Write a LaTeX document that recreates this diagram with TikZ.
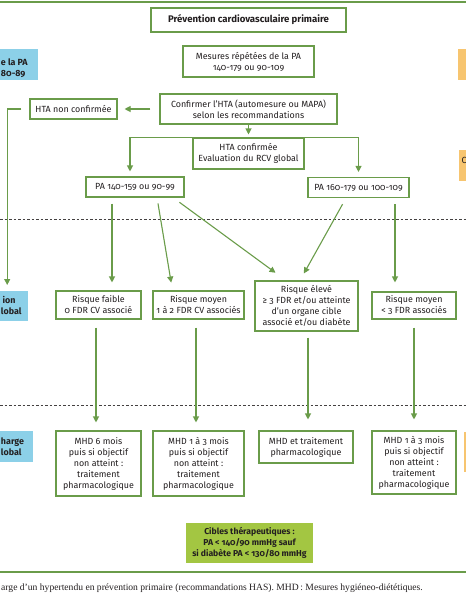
\documentclass[tikz,border=0pt]{standalone}
\usepackage{fontspec}
\setmainfont{Fira Sans}[Numbers=OldStyle]
\newfontfamily\capfont{Liberation Serif}
\usetikzlibrary{arrows.meta}
\definecolor{grn}{RGB}{106,156,74}
\definecolor{bluebx}{RGB}{140,208,232}
\definecolor{orbx}{RGB}{247,197,112}
\definecolor{limebx}{RGB}{163,198,66}
\definecolor{txt}{RGB}{35,31,32}
\begin{document}
\begin{tikzpicture}[x=1pt,y=-1pt,
 box/.style={draw=grn, line width=1.1pt, fill=white, align=center, inner sep=0pt, font=\fontsize{8.9}{11}\selectfont, text=txt},
 arr/.style={draw=grn, line width=1.1pt, -{Triangle[length=6pt,width=6pt]}},
 rule/.style={draw=grn, line width=1.4pt},
 dsh/.style={draw=txt!85, line width=0.7pt, dash pattern=on 2.5pt off 2pt},
 side/.style={font=\bfseries\fontsize{8.9}{11}\selectfont, text=txt, inner sep=0pt, anchor=base west},
 panel/.style={inner sep=0pt, anchor=north west},
]
\useasboundingbox (0,0) rectangle (466,600);
% rules and separators
\coordinate (rtl) at (0,2); \coordinate (rtr) at (466,2);
\draw[rule] (rtl) -- (rtr);
\coordinate (rbl) at (0,572); \coordinate (rbr) at (466,572);
\draw[rule] (rbl) -- (rbr);
\coordinate (d1l) at (0,219); \coordinate (d1r) at (466,219);
\draw[dsh] (d1l) -- (d1r);
\coordinate (d2l) at (0,405); \coordinate (d2r) at (466,405);
\draw[dsh] (d2l) -- (d2r);

% side panels (cut by the page edge)
\node[panel, fill=bluebx, minimum width=48, minimum height=31] (b1) at (-10,49) {};
\node[side] (b1a) at (0.8,65) {e la PA};
\node[side] (b1b) at (0.8,76) {80-89};
\node[panel, fill=bluebx, minimum width=42, minimum height=30] (b2) at (-14,291) {};
\node[side] (b2a) at (2.5,303) {ion};
\node[side] (b2b) at (0.8,314) {lobal};
\node[panel, fill=bluebx, minimum width=48, minimum height=31] (b3) at (-15,431) {};
\node[side] (b3a) at (0.8,444) {harge};
\node[side] (b3b) at (0.8,455) {lobal};
\node[panel, fill=orbx, minimum width=20, minimum height=31] (o1) at (458,49) {};
\node[panel, fill=orbx, minimum width=20, minimum height=31] (o2) at (459,150) {};
\node[font=\fontsize{8.9}{11}\selectfont, text=txt, inner sep=0pt, anchor=base west] (o2a) at (461.5,163.5) {C};
\node[panel, fill=orbx, minimum width=20, minimum height=40] (o3) at (464,432) {};

% boxes
\node[box, minimum width=195, minimum height=24, font=\bfseries\fontsize{9.6}{11}\selectfont] (tit) at (248.5,20) {Prévention cardiovasculaire primaire};
\node[box, minimum width=131, minimum height=31] (mes) at (248.5,61.5) {Mesures répétées de la PA\\140-179 ou 90-109};
\node[box, minimum width=177, minimum height=30] (conf) at (248.5,109) {Confirmer l’HTA (automesure ou MAPA)\\selon les recommandations};
\node[box, minimum width=87, minimum height=20] (hnc) at (73.5,109) {HTA non confirmée};
\node[box, minimum width=111, minimum height=31] (hc) at (248.5,153.5) {HTA confirmée\\Evaluation du RCV global};
\node[box, minimum width=98, minimum height=20] (pa1) at (135,187) {PA 140-159 ou 90-99};
\node[box, minimum width=101, minimum height=20] (pa2) at (358.5,187.5) {PA 160-179 ou 100-109};
\node[box, minimum width=85, minimum height=28] (rf) at (98.5,305) {Risque faible\\0 FDR CV associé};
\node[box, minimum width=91, minimum height=28] (rm) at (198.5,305) {Risque moyen\\1 à 2 FDR CV associés};
\node[box, minimum width=103, minimum height=50] (re) at (306.5,306) {Risque élevé\\≥ 3 FDR et/ou atteinte\\d’un organe cible\\associé et/ou diabète};
\node[box, minimum width=84, minimum height=27] (rm2) at (414,305.5) {Risque moyen\\< 3 FDR associés};
\node[box, minimum width=85, minimum height=65] (m1) at (98.5,463.5) {MHD 6 mois\\puis si objectif\\non atteint :\\traitement\\pharmacologique};
\node[box, minimum width=91, minimum height=65] (m2) at (198.5,463.5) {MHD 1 à 3 mois\\puis si objectif\\non atteint :\\traitement\\pharmacologique};
\node[box, minimum width=94, minimum height=32] (m3) at (306,447) {MHD et traitement\\pharmacologique};
\node[box, minimum width=84, minimum height=63] (m4) at (414,462.5) {MHD 1 à 3 mois\\puis si objectif\\non atteint :\\traitement\\pharmacologique};
\node[box, draw=none, fill=limebx, minimum width=127, minimum height=40, font=\bfseries\fontsize{8.6}{10.8}\selectfont] (cib) at (249.5,543) {Cibles thérapeutiques :\\PA < 140/90 mmHg sauf\\si diabète PA < 130/80 mmHg};

% caption
\node[inner sep=0pt, anchor=base west, text=txt, font=\capfont\fontsize{9.6}{11}\selectfont] (cap) at (1,590) {arge d’un hypertendu en prévention primaire (recommandations HAS). MHD\,: Mesures hygiéneo-diététiques.};

% connectors
\draw[arr, shorten <=9pt, shorten >=7pt] (conf.west) -- (hnc.east);
\draw[arr, shorten <=8pt, shorten >=6pt] (hnc.west) -| (b2.north);
\draw[arr, shorten >=3pt] (conf.south) -- (hc.north);
\draw[arr, shorten >=5pt] (hc.north west) -| ([xshift=-5pt]pa1.north);
\draw[arr, shorten >=5pt] (hc.north east) -| (pa2.north);
\draw[arr, shorten <=6pt, shorten >=8pt] ([xshift=-23pt]pa1.south) -- ([xshift=-23pt]pa1.south |- rf.north);
\draw[arr, shorten <=6pt, shorten >=8pt] ([xshift=22pt]pa1.south) -- ([xshift=-26pt]rm.north);
\draw[arr, shorten <=8pt, shorten >=13pt] ([xshift=38pt]pa1.south) -- ([xshift=-20.5pt]re.north);
\draw[arr, shorten <=7pt, shorten >=8pt] ([xshift=-12.5pt]pa2.south) -- ([xshift=-6.5pt]re.north);
\draw[arr, shorten <=6pt, shorten >=9pt] ([xshift=36.5pt]pa2.south) -- ([xshift=36.5pt]pa2.south |- rm2.north);
\draw[arr, shorten <=8pt, shorten >=8pt] ([xshift=-2.5pt]rf.south) -- ([xshift=-2.5pt]rf.south |- m1.north);
\draw[arr, shorten <=8pt, shorten >=8pt] ([xshift=-2.5pt]rm.south) -- ([xshift=-2.5pt]rm.south |- m2.north);
\draw[arr, shorten <=6pt, shorten >=11pt] ([xshift=1.5pt]re.south) -- ([xshift=1.5pt]re.south |- m3.north);
\draw[arr, shorten <=8pt, shorten >=11pt] (rm2.south) -- (rm2.south |- m4.north);
\end{tikzpicture}
\end{document}
